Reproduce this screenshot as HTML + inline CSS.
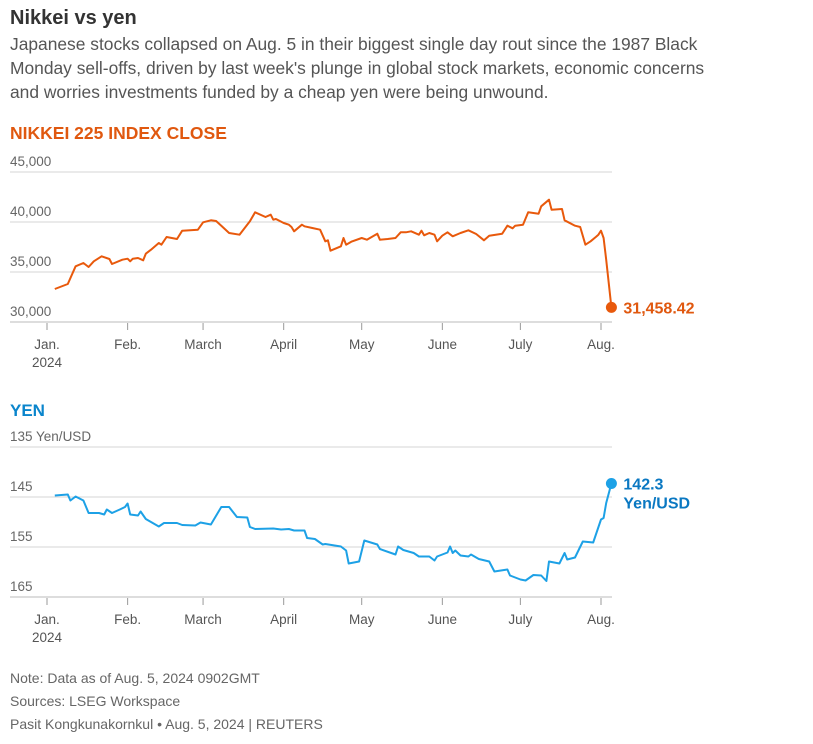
<!DOCTYPE html>
<html><head><meta charset="utf-8">
<style>
body{margin:0;background:#fff;width:813px;height:739px;overflow:hidden;font-family:"Liberation Sans",sans-serif;}
svg text{font-family:"Liberation Sans",sans-serif;}
</style></head>
<body>
<svg id="chart" width="813" height="739">
<text x="10" y="24" font-size="20" font-weight="bold" fill="#333">Nikkei vs yen</text>
<g font-size="17.4" fill="#555">
<text x="10" y="50">Japanese stocks collapsed on Aug. 5 in their biggest single day rout since the 1987 Black</text>
<text x="10" y="74">Monday sell-offs, driven by last week's plunge in global stock markets, economic concerns</text>
<text x="10" y="98">and worries investments funded by a cheap yen were being unwound.</text>
</g>
<text x="10" y="139" font-size="17.5" font-weight="bold" fill="#e0580f">NIKKEI 225 INDEX CLOSE</text>
<text x="10" y="416" font-size="17" font-weight="bold" fill="#0a85cc">YEN</text>
<g font-size="14" fill="#666">
<text x="10" y="683">Note: Data as of Aug. 5, 2024 0902GMT</text>
<text x="10" y="706">Sources: LSEG Workspace</text>
<text x="10" y="729">Pasit Kongkunakornkul • Aug. 5, 2024 | REUTERS</text>
</g>
<g id="top"></g>
<g id="bot"></g>
</svg>
<script>
const monthLabels=["Jan.","Feb.","March","April","May","June","July","Aug."];
const monthDays=[0,31,60,91,121,152,182,213];
const nikkeiDays=[3,8,11,14,16,18,21,24,25,29,31,32,33,35,37,38,40,43,44,46,50,52,58,60,63,65,67,70,74,78,80,84,86,87,88,91,93,94,95,98,99,102,105,107,108,109,113,114,115,117,121,123,127,128,131,134,136,138,140,143,144,145,147,149,150,152,154,156,159,162,165,168,170,175,177,179,180,183,185,189,190,193,194,198,199,203,205,207,209,211,212,213,214,215,217];
const nikkeiValues=[33300,33800,35570,35900,35500,36070,36570,36300,35800,36230,36330,36070,36330,36400,36170,36830,37230,37900,37730,38500,38300,39130,39230,39970,40170,40100,39630,38900,38730,40070,40970,40500,40730,40230,40300,39900,39730,39500,39070,39730,39570,39400,39230,38070,38170,37130,37570,38400,37730,38030,38400,38230,38830,38230,38300,38400,38970,38970,39070,38730,39130,38670,38900,38730,38070,38630,38970,38570,38900,39170,38800,38170,38630,38830,39630,39370,39630,39730,40970,40830,41570,42230,41230,41300,40170,39630,39500,37730,38070,38500,38730,39130,38400,36230,31458.42];
const nikkeiTicks=[45000,40000,35000,30000];
const nikkeiTickLabels=["45,000","40,000","35,000","30,000"];
const yenDays=[3,8,9,11,14,16,20,22,23,25,28,30,31,32,35,36,38,43,45,50,52,57,59,63,67,70,73,77,78,80,87,90,93,95,99,100,103,106,107,113,115,116,120,122,127,128,134,135,137,141,143,147,149,150,154,155,156,157,159,162,163,166,170,172,177,178,182,184,187,190,192,193,197,199,200,203,206,210,213,214,215,217];
const yenValues=[144.7,144.5,145.7,144.9,145.7,148.2,148.2,148.5,147.5,148.2,147.5,147,146.3,148.5,148.7,147.9,149.4,150.9,150.2,150.2,150.6,150.7,150.1,150.5,147,147,149,149.1,151,151.4,151.3,151.5,151.4,151.7,151.7,153.2,153.4,154.5,154.4,154.9,155.7,158.3,157.9,153.7,154.5,155.4,156.5,154.9,155.6,156.2,156.9,156.9,157.7,156.9,156.1,154.9,156.2,155.7,156.7,156.9,156.5,157.4,157.9,159.9,159.5,160.7,161.5,161.7,160.6,160.7,161.8,157.9,158.3,156.2,157.5,157.1,153.9,154.1,149.5,149.2,146.2,142.3];
const yenTicks=[135,145,155,165];
const yenTickLabels=["135 Yen/USD","145","155","165"];

const NS="http://www.w3.org/2000/svg";
function mk(p,t,a){const e=document.createElementNS(NS,t);for(const k in a)e.setAttribute(k,a[k]);p.appendChild(e);return e;}
const xS=d=>47+d*(554/213);
function drawChart(g,days,vals,ticks,labels,yS,color,labColor,base,endLabel,nm){
  ticks.forEach((t,i)=>{
    const l=mk(g,'line',{x1:10,x2:612,y1:yS(t),y2:yS(t),stroke:i===ticks.length-1?'#bbb':'#d4d4d4','stroke-width':1});
    
    
    const tx=mk(g,'text',{x:10,y:yS(t)-6,'font-size':13.5,fill:'#666'});tx.textContent=labels[i];
    
    
  });
  monthDays.forEach((d,i)=>{
    const tk=mk(g,'line',{x1:xS(d),x2:xS(d),y1:base+1,y2:base+8,stroke:'#999','stroke-width':1});
    
    
    const tx=mk(g,'text',{x:xS(d),y:base+27,'font-size':13.5,fill:'#555','text-anchor':'middle'});tx.textContent=monthLabels[i];
    
    
  });
  const yr=mk(g,'text',{x:xS(0),y:base+45,'font-size':13.5,fill:'#555','text-anchor':'middle'});yr.textContent='2024';
  
  
  const pts=days.map((d,i)=>xS(d).toFixed(1)+','+yS(vals[i]).toFixed(1)).join(' ');
  const pl=mk(g,'polyline',{points:pts,fill:'none',stroke:color,'stroke-width':2,'stroke-linejoin':'round'});
  
  
  const n=days.length-1;
  const dot=mk(g,'circle',{cx:xS(days[n]),cy:yS(vals[n]),r:5.5,fill:color});
  
  
  endLabel.forEach((s,i)=>{
    const t=mk(g,'text',{x:xS(days[n])+12,y:yS(vals[n])+6+i*19,'font-size':16,'font-weight':'bold',fill:labColor});t.textContent=s;
    
    
  });
}
const nS=v=>322-(v-30000)/100;
const yS=v=>447+(v-135)*5;
drawChart(document.getElementById('top'),nikkeiDays,nikkeiValues,nikkeiTicks,nikkeiTickLabels,nS,'#e8590c','#e0580f',322,['31,458.42'],'nikkei');
drawChart(document.getElementById('bot'),yenDays,yenValues,yenTicks,yenTickLabels,yS,'#1da1e6','#0a78c2',597,['142.3','Yen/USD'],'yen');
</script>
</body></html>
